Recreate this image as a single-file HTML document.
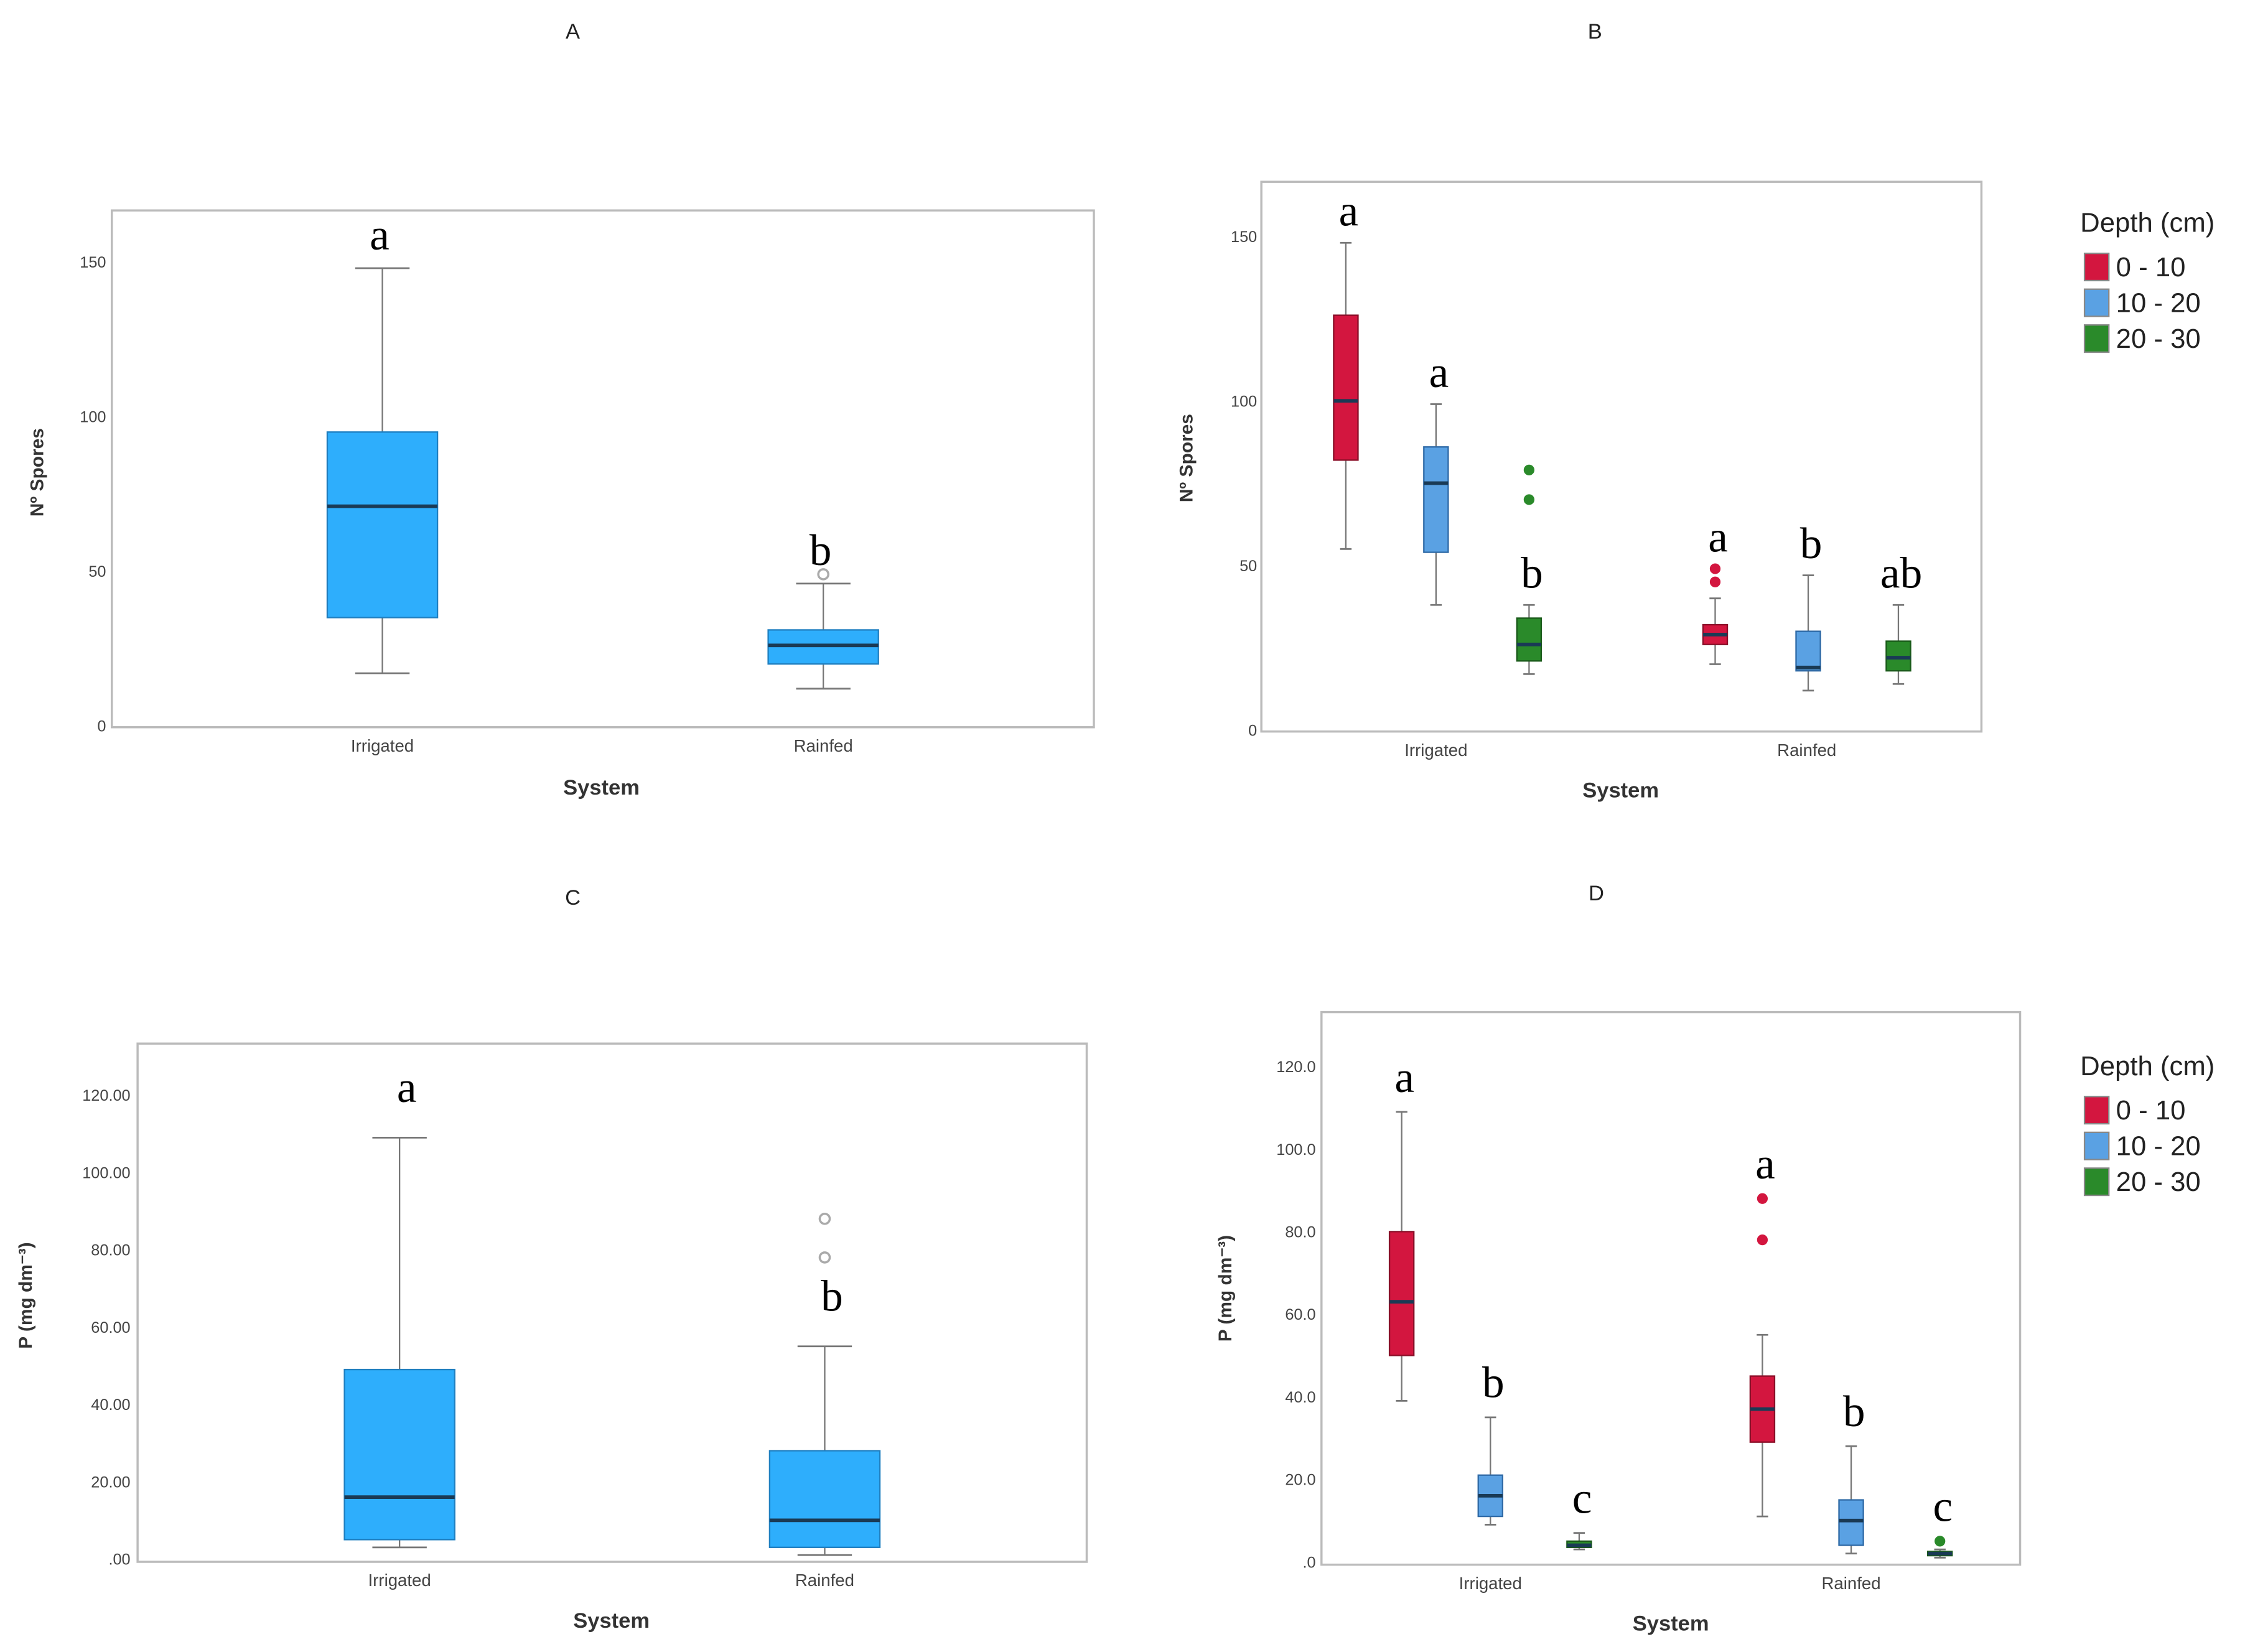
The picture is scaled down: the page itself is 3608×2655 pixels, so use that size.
<!DOCTYPE html>
<html><head><meta charset="utf-8"><style>
html,body{margin:0;padding:0;background:#fff}
svg{display:block}
text{font-family:"Liberation Sans",sans-serif}
.t{font-size:11px;fill:#444}
.ttl{font-size:15px;fill:#222}
.ax{font-size:13px;font-weight:bold;fill:#333}
.let{font-family:"Liberation Serif",serif;font-size:31px;fill:#000}
.leg{font-size:19px;fill:#222}
</style></head><body>
<svg id="s" width="3608" height="2655" viewBox="0 0 1568 1154" xmlns="http://www.w3.org/2000/svg"></svg>
<script>
// Panel A data
const catsA=["Irrigated","Rainfed"];
const statsA=[[17,35,71,95,148],[12,20,26,31,46]];
const outA=[[],[49]];
const letA=["a","b"];
const ticksA=[0,50,100,150];
// Panel B data
const groupsB=["Irrigated","Rainfed"];
const depths=["0 - 10","10 - 20","20 - 30"];
const statsB=[[55,82,100,126,148],[38,54,75,86,99],[17,21,26,34,38],[20,26,29,32,40],[12,18,19,30,47],[14,18,22,27,38]];
const outB=[[],[],[70,79],[45,49],[],[]];
const letB=["a","a","b","a","b","ab"];
const letAboveOutB=[false,false,false,true,false,false];
const ticksB=[0,50,100,150];
// Panel C data
const catsC=["Irrigated","Rainfed"];
const statsC=[[3,5,16,49,109],[1,3,10,28,55]];
const outC=[[],[78,88]];
const letC=["a","b"];
const ticksC=[0,20,40,60,80,100,120];
const tickLabC=[".00","20.00","40.00","60.00","80.00","100.00","120.00"];
// Panel D data
const statsD=[[39,50,63,80,109],[9,11,16,21,35],[3,3.5,4,5,7],[11,29,37,45,55],[2,4,10,15,28],[1,1.5,2,2.5,3]];
const outD=[[],[],[],[78,88],[],[5]];
const letD=["a","b","c","a","b","c"];
const letAboveOutD=[false,false,false,true,false,true];
const ticksD=[0,20,40,60,80,100,120];
const tickLabD=[".0","20.0","40.0","60.0","80.0","100.0","120.0"];

const S=document.getElementById('s');
const NS="http://www.w3.org/2000/svg";
function mk(tag,at,txt){const e=document.createElementNS(NS,tag);for(const k in at)e.setAttribute(k,at[k]);if(txt!==undefined)e.textContent=txt;S.appendChild(e);return e;}
const dcol=["#d3163f","#5aa1e3","#2a8a2a"];
const dstroke=["#8a0f28","#2f6aa6","#1a5a1a"];

function panel(P){
  const y=v=>P.y0-(v-P.vmin)/(P.vmax-P.vmin)*(P.y0-P.y1);
  let e=mk('text',{x:P.tx,y:P.ty,'text-anchor':'middle',class:'ttl'},P.title);
  
  e=mk('rect',{x:P.bx,y:P.by,width:P.bw,height:P.bh,fill:'none',stroke:'#bbb','stroke-width':1.5});
  
  P.ticks.forEach((t,i)=>{
    e=mk('text',{x:P.lx,y:y(t)+4,'text-anchor':'end',class:'t'},P.tlab?P.tlab[i]:String(t));
    
  });
  e=mk('text',{x:0,y:0,transform:`translate(${P.ytx},${P.yty}) rotate(-90)`,'text-anchor':'middle',class:'ax'},P.ytitle);
  
  e=mk('text',{x:P.sx,y:P.sy,'text-anchor':'middle',class:'ax',style:'font-size:15px'},'System');
  
  P.cats.forEach((c,i)=>{
    e=mk('text',{x:P.cx[i],y:P.by+P.bh+17,'text-anchor':'middle',class:'t',style:'font-size:12px'},c);
    
  });
  P.stats.forEach((s,i)=>{
    const x=P.bxs[i],w=P.w,fill=P.fills[i],st=P.strokes[i];
    e=mk('line',{x1:x,x2:x,y1:y(s[0]),y2:y(s[4]),stroke:'#777','stroke-width':1});
    
    [s[0],s[4]].forEach(v=>{e=mk('line',{x1:x-P.cap,x2:x+P.cap,y1:y(v),y2:y(v),stroke:'#777','stroke-width':1.2});
      });
    e=mk('rect',{x:x-w/2,y:y(s[3]),width:w,height:y(s[1])-y(s[3]),fill:fill,stroke:st,'stroke-width':1});
    
    e=mk('line',{x1:x-w/2,x2:x+w/2,y1:y(s[2]),y2:y(s[2]),stroke:'#1a3a55','stroke-width':2.5});
    
    P.outs[i].forEach(v=>{
      e=mk('circle',{cx:x,cy:y(v),r:P.hollow?3.5:3,fill:P.hollow?'none':fill,stroke:P.hollow?'#aaa':fill,'stroke-width':1.5});
      
    });
    let top=s[4];
    if(P.above&&P.above[i]&&P.outs[i].length)top=Math.max(top,...P.outs[i]);
    e=mk('text',{x:x+P.lo,y:y(top)-P.lg,'text-anchor':'middle',class:'let'},P.lets[i]);
    
  });
  if(P.legend){
    e=mk('text',{x:P.legx-3,y:P.legy,class:'leg'},'Depth (cm)');
    
    depths.forEach((d,i)=>{
      e=mk('rect',{x:P.legx,y:P.legy+15+i*25,width:17,height:19,fill:dcol[i],stroke:'#888','stroke-width':1});
      
      e=mk('text',{x:P.legx+22,y:P.legy+31+i*25,class:'leg'},d);
      
    });
  }
}
const bf=["#2eaefc","#2eaefc"],bs=["#1f7fc0","#1f7fc0"];
const df=[0,1,2,0,1,2].map(i=>dcol[i]),ds=[0,1,2,0,1,2].map(i=>dstroke[i]);
panel({title:'A',tx:400,ty:27,bx:78,by:147,bw:686,bh:361,y0:507,y1:183,vmin:0,vmax:150,ticks:ticksA,lx:74,
 ytitle:'Nº Spores',ytx:30,yty:330,sx:420,sy:555,cats:catsA,cx:[267,575],stats:statsA,outs:outA,bxs:[267,575],w:77,cap:19,
 fills:bf,strokes:bs,hollow:true,lets:letA,lo:-2,lg:13});
panel({title:'B',tx:1114,ty:27,bx:881,by:127,bw:503,bh:384,y0:510,y1:165,vmin:0,vmax:150,ticks:ticksB,lx:878,
 ytitle:'Nº Spores',ytx:833,yty:320,sx:1132,sy:557,cats:groupsB,cx:[1003,1262],stats:statsB,outs:outB,bxs:[940,1003,1068,1198,1263,1326],w:17,cap:4,
 fills:df,strokes:ds,lets:letB,above:letAboveOutB,lo:2,lg:12,legend:true,legx:1456,legy:162});
panel({title:'C',tx:400,ty:632,bx:96,by:729,bw:663,bh:362,y0:1089,y1:765,vmin:0,vmax:120,ticks:ticksC,tlab:tickLabC,lx:91,
 ytitle:'P (mg dm⁻³)',ytx:22,yty:905,sx:427,sy:1137,cats:catsC,cx:[279,576],stats:statsC,outs:outC,bxs:[279,576],w:77,cap:19,
 fills:bf,strokes:bs,hollow:true,lets:letC,lo:5,lg:25});
panel({title:'D',tx:1115,ty:629,bx:923,by:707,bw:488,bh:386,y0:1091,y1:745,vmin:0,vmax:120,ticks:ticksD,tlab:tickLabD,lx:919,
 ytitle:'P (mg dm⁻³)',ytx:860,yty:900,sx:1167,sy:1139,cats:groupsB,cx:[1041,1293],stats:statsD,outs:outD,bxs:[979,1041,1103,1231,1293,1355],w:17,cap:4,
 fills:df,strokes:ds,lets:letD,above:letAboveOutD,lo:2,lg:14,legend:true,legx:1456,legy:751});
</script>
</body></html>
